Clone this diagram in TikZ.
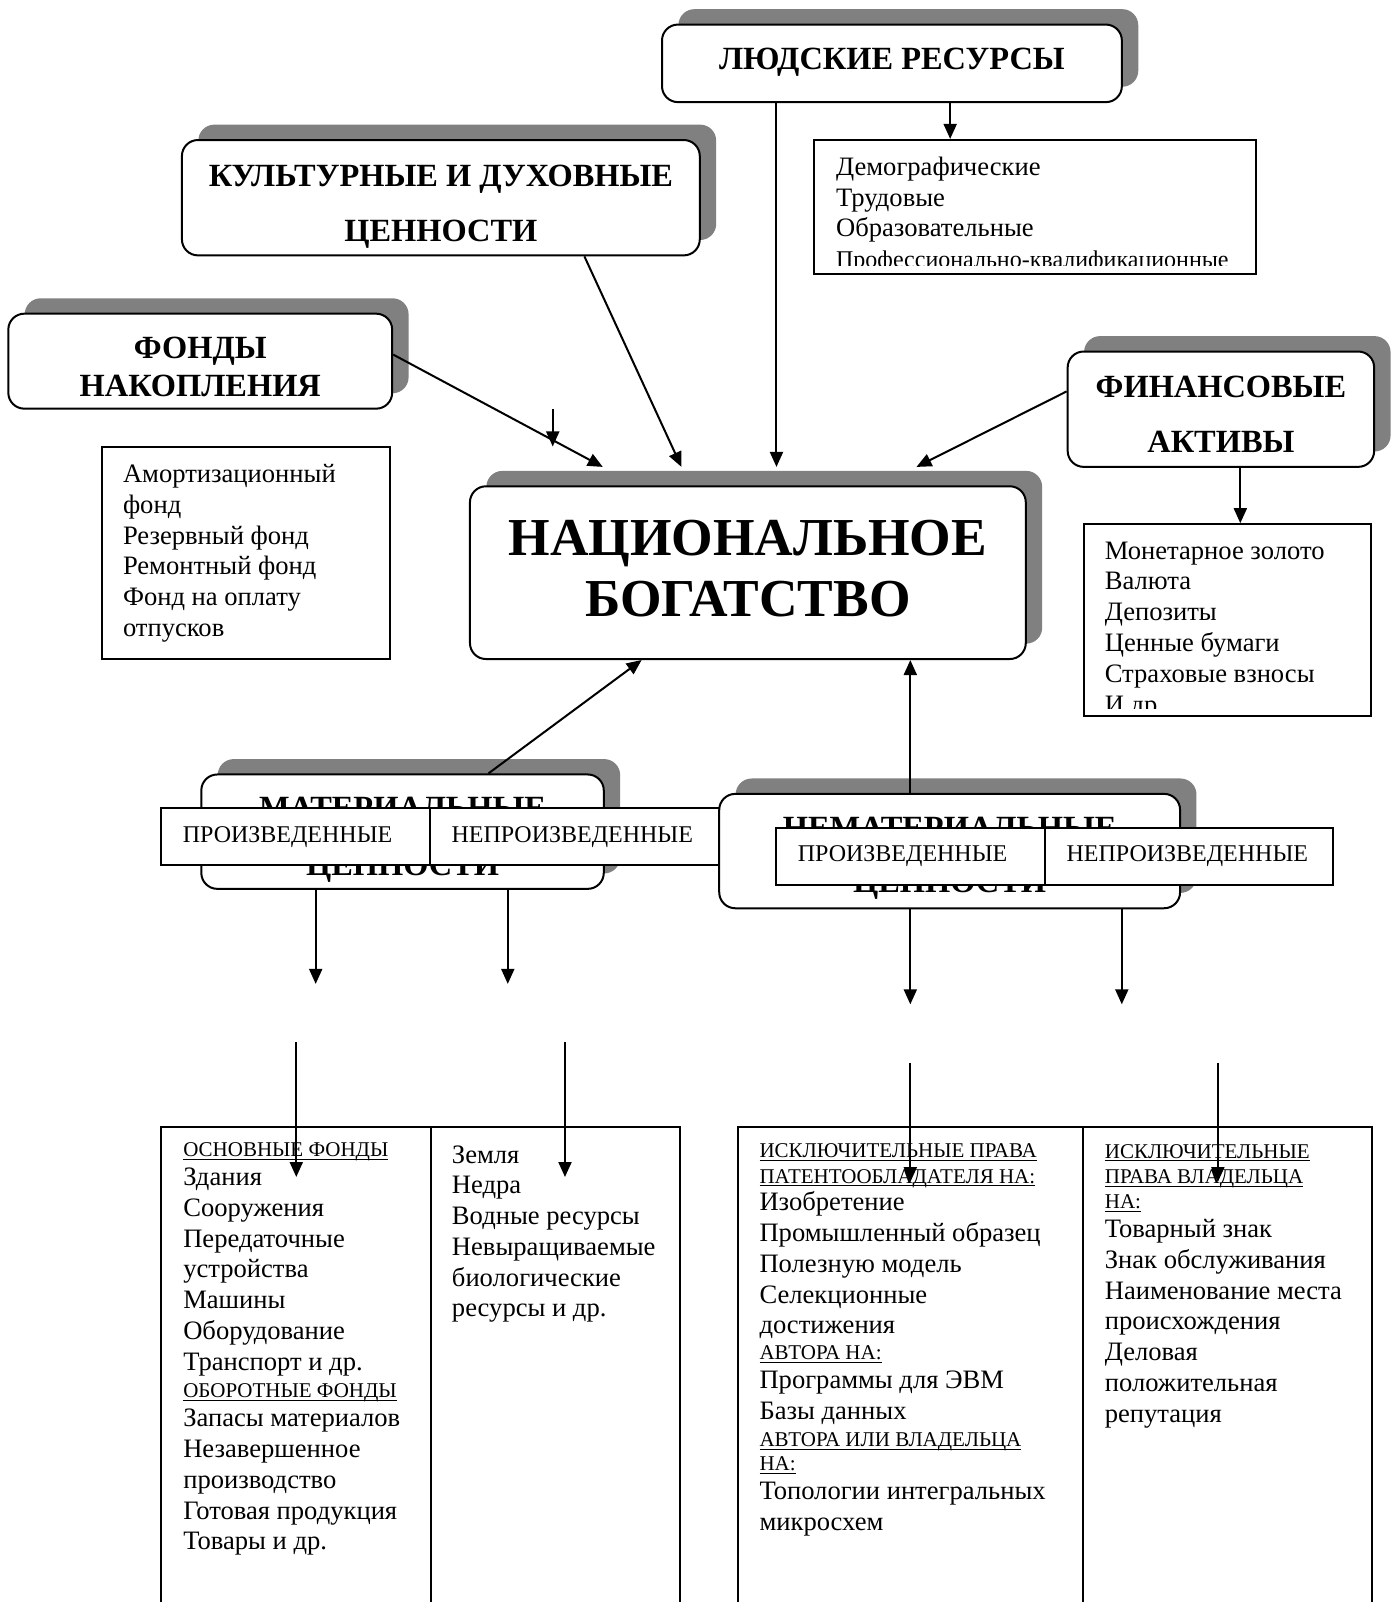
\documentclass[tikz,border=0pt]{standalone}
\usepackage{fontspec}
\setmainfont{Liberation Serif}
\usetikzlibrary{arrows.meta,positioning,shadows}
\newcommand{\undhead}[1]{{\fontsize{10.5}{15.4}\selectfont\underline{\smash{#1}}}}
\tikzset{
  headbox/.style={draw, line width=1pt, rounded corners=8pt, fill=white,
    drop shadow={shadow xshift=8.2pt, shadow yshift=7.7pt, opacity=1, fill=black!50}},
  headtext/.style={align=center, inner sep=0pt, font=\fontsize{16.2}{19}\selectfont\bfseries},
  listbox/.style={draw, line width=1pt, fill=white},
  listtext/.style={inner sep=0pt, align=left, anchor=base west, font=\fontsize{13.3}{15.4}\selectfont},
  rowbox/.style={draw, line width=1pt, fill=white, inner xsep=10.7pt, align=left,
    minimum height=28.6pt, font=\fontsize{12}{14}\selectfont},
  tabline/.style={line width=1pt},
  arr/.style={line width=1pt, -{Triangle[length=7.5pt,width=6.5pt]}}
}
\begin{document}
\begin{tikzpicture}[x=0.511pt, y=-0.511pt]
  \useasboundingbox (0,0) rectangle (1363,1568);

  % Upper blocks
  \node[headbox, minimum width=230pt, minimum height=38.8pt] (lyud) at (873,62) {};
  \node[headtext] (lyudTxt) at (873,61) {ЛЮДСКИЕ РЕСУРСЫ};
  \node[headbox, minimum width=259pt, minimum height=57.7pt] (kult) at (431.5,193.5) {};
  \node[headtext] (kultTxt) at (431.5,202) {КУЛЬТУРНЫЕ И ДУХОВНЫЕ\\[8.6pt]ЦЕННОСТИ};
  \node[headbox, minimum width=192pt, minimum height=47.5pt] (fond) at (196,353.5) {};
  \node[headtext] (fondTxt) at (196,359) {ФОНДЫ\\НАКОПЛЕНИЯ};
  \node[headbox, minimum width=153.3pt, minimum height=57.7pt] (fin) at (1195,400.5) {};
  \node[headtext] (finTxt) at (1195,405.5) {ФИНАНСОВЫЕ\\[8.6pt]АКТИВЫ};
  \node[headbox, minimum width=278pt, minimum height=86.4pt] (nb) at (732,560.5) {};
  \node[headtext, font=\fontsize{26.7}{30.7}\selectfont\bfseries] (nbTxt) at (732,556.5) {НАЦИОНАЛЬНОЕ\\БОГАТСТВО};

  % Lists beside the upper blocks
  \node[listbox, minimum width=220.8pt, minimum height=67pt] (demo) at (1013,202.5) {};
  \begin{scope}
    \clip ([yshift=4.6pt]demo.south west) rectangle (demo.north east);
    \node[listtext] (demoTxt) at (818,262) {Демографические\\Трудовые\\Образовательные\\{\fontsize{12}{15.4}\selectfont Профессионально-квалификационные}};
  \end{scope}
  \node[listbox, minimum width=144.1pt, minimum height=105.8pt] (amort) at (241,541.5) {};
  \node[listtext] (amortTxt) at (120,623) {Амортизационный\\фонд\\Резервный фонд\\Ремонтный фонд\\Фонд на оплату\\отпусков};
  \node[listbox, minimum width=143.6pt, minimum height=96pt] (mon) at (1201.5,607) {};
  \begin{scope}
    \clip ([yshift=4.1pt]mon.south west) rectangle (mon.north east);
    \node[listtext] (monTxt) at (1081,698) {Монетарное золото\\Валюта\\Депозиты\\Ценные бумаги\\Страховые взносы\\И др.};
  \end{scope}

  % Material / non-material blocks with their rows
  \node[headbox, minimum width=201.3pt, minimum height=57.2pt] (mat) at (394,814) {};
  \node[headtext] (matTxt) at (394,822) {МАТЕРИАЛЬНЫЕ\\[9.6pt]ЦЕННОСТИ};
  \node[rowbox, text width=113pt] (matP) at (289.5,819) {ПРОИЗВЕДЕННЫЕ};
  \node[rowbox, text width=123.7pt, right=-1pt of matP] (matN) {НЕПРОИЗВЕДЕННЫЕ};
  \node[headbox, minimum width=230.5pt, minimum height=57.2pt] (nemat) at (929.5,833) {};
  \node[headtext] (nematTxt) at (929.5,840) {НЕМАТЕРИАЛЬНЫЕ\\[8pt]ЦЕННОСТИ};
  \node[rowbox, text width=113pt] (nmP) at (891.5,838) {ПРОИЗВЕДЕННЫЕ};
  \node[rowbox, text width=122.7pt, right=-1pt of nmP] (nmN) {НЕПРОИЗВЕДЕННЫЕ};

  % Lower tables
  \draw[tabline] (158,1568) -- (158,1103) -- (666,1103) -- (666,1568);
  \draw[tabline] (422,1103) -- (422,1568);
  \draw[tabline] (722,1568) -- (722,1103) -- (1343,1103) -- (1343,1568);
  \draw[tabline] (1060,1103) -- (1060,1568);

  \node[listtext] (osnTxt) at (179,1517) {\undhead{ОСНОВНЫЕ ФОНДЫ}\\[-1pt]Здания\\Сооружения\\Передаточные\\устройства\\Машины\\Оборудование\\Транспорт и др.\\[-1.5pt]\undhead{ОБОРОТНЫЕ ФОНДЫ}\\[-1pt]Запасы материалов\\Незавершенное\\производство\\Готовая продукция\\Товары и др.};
  \node[listtext] (zemTxt) at (442,1289) {Земля\\Недра\\Водные ресурсы\\Невыращиваемые\\биологические\\ресурсы и др.};
  \node[listtext] (patTxt) at (743,1498) {\undhead{ИСКЛЮЧИТЕЛЬНЫЕ ПРАВА}\\[-2.5pt]\undhead{ПАТЕНТООБЛАДАТЕЛЯ НА:}\\[-1.5pt]Изобретение\\Промышленный образец\\Полезную модель\\Селекционные\\достижения\\[-2.5pt]\undhead{АВТОРА НА:}\\[-1pt]Программы для ЭВМ\\Базы данных\\[-2pt]\undhead{АВТОРА ИЛИ ВЛАДЕЛЬЦА}\\[-3pt]\undhead{НА:}\\[-1pt]Топологии интегральных\\микросхем};
  \node[listtext] (vladTxt) at (1081,1392) {\undhead{ИСКЛЮЧИТЕЛЬНЫЕ}\\[-2.5pt]\undhead{ПРАВА ВЛАДЕЛЬЦА}\\[-3pt]\undhead{НА:}\\[-1pt]Товарный знак\\Знак обслуживания\\Наименование места\\происхождения\\Деловая\\положительная\\репутация};

  % Connectors
  \coordinate (inL) at (590,457);
  \coordinate (inK) at (667,457);
  \coordinate (inC) at (760,457);
  \coordinate (inF) at (897,457);
  \coordinate (kx) at (572,0);
  \coordinate (dx) at (930,0);
  \coordinate (fx) at (1214,0);
  \coordinate (mx) at (478,0);
  \coordinate (nx) at (628,0);
  \coordinate (ex) at (891,0);
  \draw[arr] ([yshift=3.3pt]fond.east) -- (inL);
  \draw[arr] (kult.south -| kx) -- (inK);
  \draw[arr] (lyud.south -| inC) -- (inC);
  \draw[arr] (lyud.south -| dx) -- (demo.north -| dx);
  \draw[arr] ([yshift=8.9pt]fin.west) -- (inF);
  \draw[arr] (fin.south -| fx) -- (mon.north -| fx);
  \draw[arr] (mat.north -| mx) -- (nb.south -| nx);
  \draw[arr] (nemat.north -| ex) -- (nb.south -| ex);

  % Loose arrows
  \coordinate (strayA) at (541,400);
  \coordinate (strayB) at (541,437);
  \draw[arr] (strayA) -- (strayB);
  \coordinate (dropML) at (309,963);
  \coordinate (dropMR) at (497,963);
  \coordinate (dropNL) at (891,983);
  \coordinate (dropNR) at (1098,983);
  \draw[arr] (mat.south -| dropML) -- (dropML);
  \draw[arr] (mat.south -| dropMR) -- (dropMR);
  \draw[arr] (nemat.south -| dropNL) -- (dropNL);
  \draw[arr] (nemat.south -| dropNR) -- (dropNR);
  \coordinate (lowA1) at (290,1020);  \coordinate (lowA2) at (290,1152);
  \coordinate (lowB1) at (553,1020);  \coordinate (lowB2) at (553,1152);
  \coordinate (lowC1) at (891,1040);  \coordinate (lowC2) at (891,1157);
  \coordinate (lowD1) at (1192,1040); \coordinate (lowD2) at (1192,1157);
  \draw[arr] (lowA1) -- (lowA2);
  \draw[arr] (lowB1) -- (lowB2);
  \draw[arr] (lowC1) -- (lowC2);
  \draw[arr] (lowD1) -- (lowD2);
\end{tikzpicture}
\end{document}
